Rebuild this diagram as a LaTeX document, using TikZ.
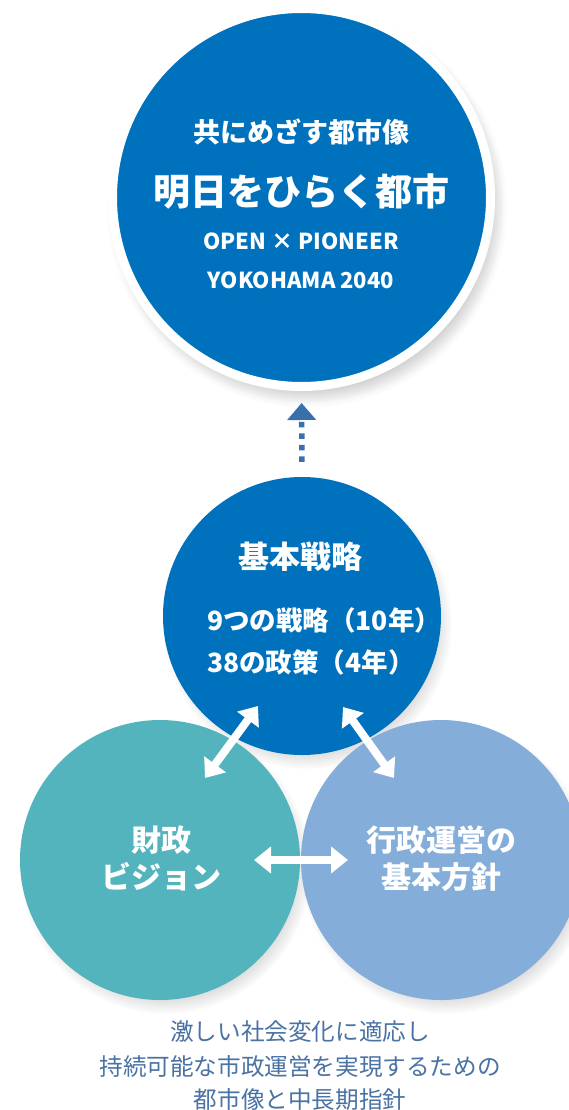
\documentclass[tikz,border=0pt]{standalone}
\usepackage{fontspec}
\setmainfont{Noto Sans CJK JP}
\usetikzlibrary{arrows.meta,shadows,calc}
\definecolor{topblue}{RGB}{0,113,188}
\definecolor{tealc}{RGB}{84,180,189}
\definecolor{lightb}{RGB}{132,174,217}
\definecolor{arrowblue}{RGB}{58,111,174}
\definecolor{capblue}{RGB}{74,114,164}
\newcommand{\fs}[1]{\fontsize{#1pt}{#1pt}\selectfont}
\begin{document}
\begin{tikzpicture}[x=1pt,y=-1pt,
  disc/.style={circle,inner sep=0pt,
    circular drop shadow={shadow xshift=5pt,shadow yshift=-8pt,opacity=0.35,shadow scale=1.04}},
  wtext/.style={text=white,inner sep=0pt,font=\bfseries},
  biarrow/.style={white,line width=8pt,
    {Triangle[length=17pt,width=26pt]}-{Triangle[length=17pt,width=26pt]}},
  captext/.style={text=capblue,inner sep=0pt,font=\fs{23.6}}]
\clip (0,0) rectangle (569,1110);
\fill[white] (0,0) rectangle (569,1110);

% circles
\node[disc,fill=topblue,draw=white,line width=9pt,minimum size=378pt,
  circular drop shadow={shadow xshift=5pt,shadow yshift=-9pt,opacity=0.35,shadow scale=1.06}]
  (vision) at (301.5,197.5) {};
\node[disc,fill=topblue,minimum size=278pt] (strategy) at (302,616) {};
\node[disc,fill=tealc,minimum size=280pt] (finance) at (160,860) {};
\node[disc,fill=lightb,minimum size=280pt] (admin) at (441,860) {};

% top circle texts
\node[wtext,font=\bfseries\fs{27}] (v1) at (301,132) {共にめざす都市像};
\node[wtext,font=\bfseries\fs{37}] (v2) at (301,192) {明日をひらく都市};
\node[wtext,font=\bfseries\fs{22}] (v3) at (301,241) {OPEN × PIONEER};
\node[wtext,font=\bfseries\fs{22}] (v4) at (301,280) {YOKOHAMA 2040};

% middle circle texts
\node[wtext,font=\bfseries\fs{31}] (s1) at (300,557) {基本戦略};
\node[wtext,font=\bfseries\fs{26.5},anchor=west] (s2) at (207,620) {9つの戦略（10年）};
\node[wtext,font=\bfseries\fs{26.5},anchor=west] (s3) at (207,662) {38の政策（4年）};

% lower circles texts
\node[wtext,font=\bfseries\fs{30}] (f1) at (161,840) {財政};
\node[wtext,font=\bfseries\fs{30}] (f2) at (161,877) {ビジョン};
\node[wtext,font=\bfseries\fs{30}] (a1) at (441,840) {行政運営の};
\node[wtext,font=\bfseries\fs{30}] (a2) at (441,877) {基本方針};

% dotted arrow
\draw[arrowblue,line width=5.5pt,dash pattern=on 5.5pt off 6pt,
  shorten <=15pt,shorten >=12pt,
  -{Triangle[length=17pt,width=28pt]}] (strategy.north) -- (vision.south);

% white double arrows
\coordinate (la) at (258,706);
\coordinate (lb) at (205,778);
\coordinate (ra) at (343,707);
\coordinate (rb) at (394,778);
\coordinate (ha) at (254,860);
\coordinate (hb) at (348,860);
\draw[biarrow] (la) -- (lb);
\draw[biarrow] (ra) -- (rb);
\draw[biarrow] (ha) -- (hb);

% caption
\node[captext] (c1) at (300,1032) {激しい社会変化に適応し};
\node[captext] (c2) at (300,1067) {持続可能な市政運営を実現するための};
\node[captext] (c3) at (300,1100) {都市像と中長期指針};
\end{tikzpicture}
\end{document}
